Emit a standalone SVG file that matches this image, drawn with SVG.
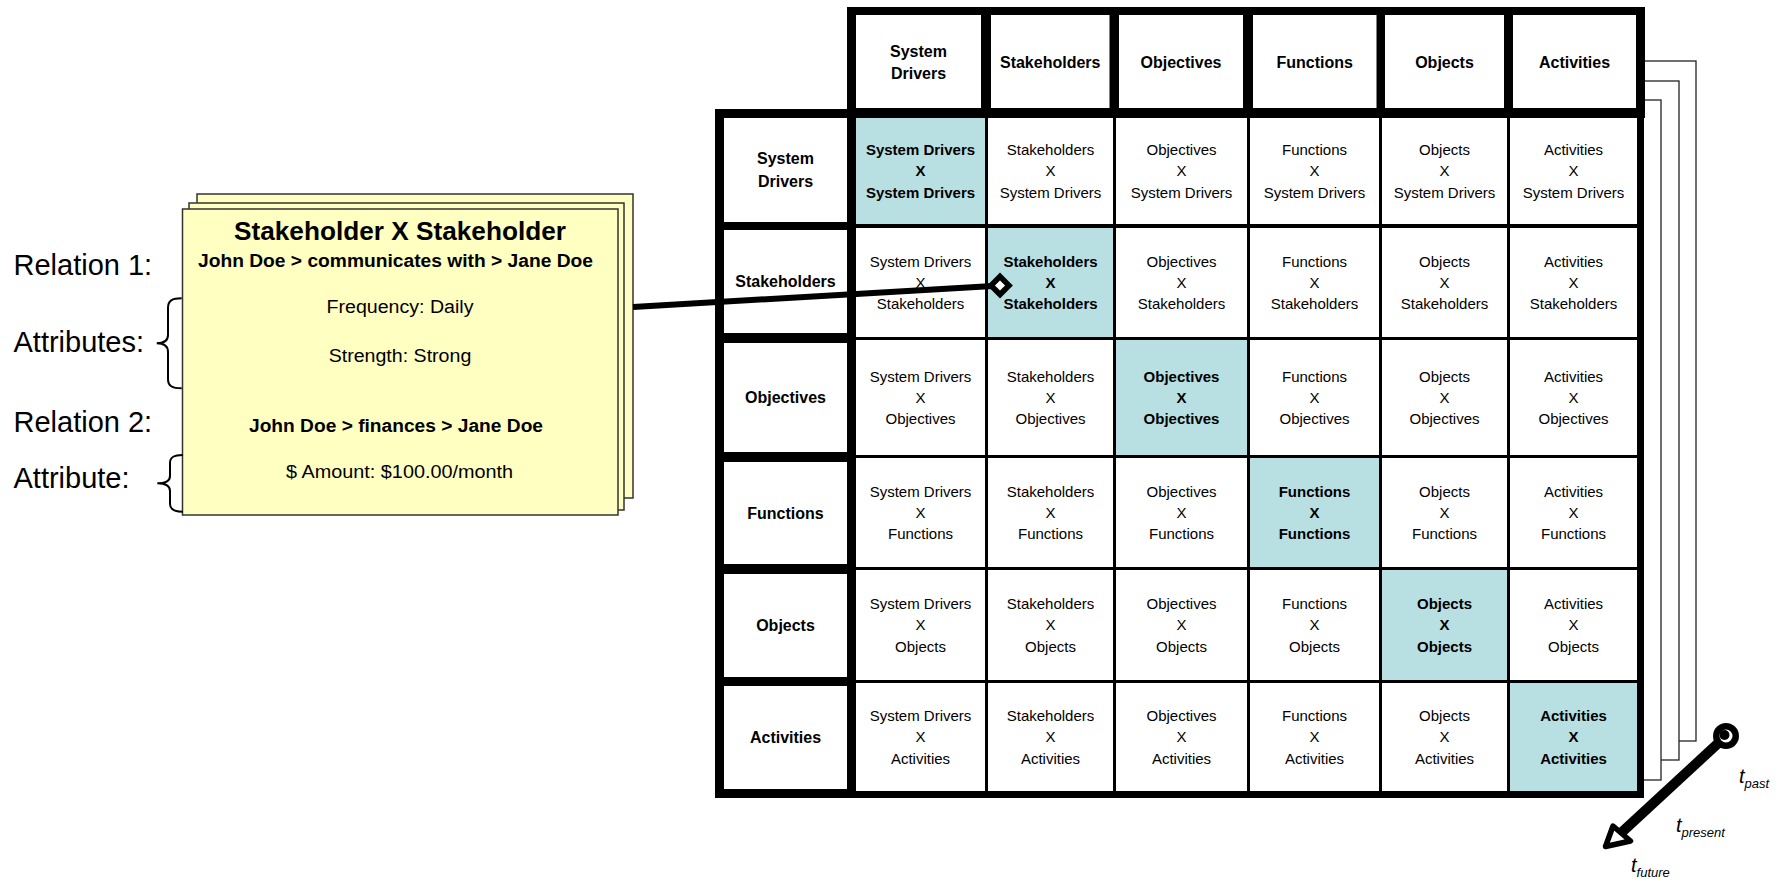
<svg xmlns="http://www.w3.org/2000/svg" width="1789" height="882" viewBox="0 0 1789 882">
  <style>
    text { font-family: "Liberation Sans", Arial, sans-serif; fill: #000; }
    .frame { fill: #000; }
    .cell { fill: #fff; }
    .diag { fill: #B8DFE2; }
    .t { font-size: 15px; text-anchor: middle; }
    .tb { font-size: 15px; font-weight: bold; text-anchor: middle; }
    .h { font-size: 16px; font-weight: bold; text-anchor: middle; }
    .page { fill: #fff; stroke: #222; stroke-width: 1.3; }
    .card { fill: #FFFFC2; stroke: #333; stroke-width: 1.5; }
    .ct { font-size: 18px; text-anchor: middle; }
    .ctb { font-size: 18px; font-weight: bold; text-anchor: middle; }
    .title { font-size: 25px; font-weight: bold; text-anchor: middle; }
    .side { font-size: 29px; }
    .brace { fill: none; stroke: #000; stroke-width: 2; }
    .tm { font-size: 20px; font-style: italic; }
    .sub { font-size: 13px; }
  </style>

  <!-- stacked time sheets behind the matrix -->
  <g id="time-sheets">
    <rect class="page" x="900" y="61" width="796" height="680"/>
    <rect class="page" x="900" y="81" width="779" height="679"/>
    <rect class="page" x="900" y="100" width="761" height="680"/>
  </g>

  <!-- matrix frame -->
  <g id="matrix-frame">
    <rect class="frame" x="847" y="7" width="798" height="111"/>
    <rect class="frame" x="715" y="109" width="141" height="689"/>
    <rect class="frame" x="847" y="109" width="797" height="689"/>
  </g>

  <!-- column headers -->
  <g id="hdr-system-drivers"><rect class="cell" x="856" y="15" width="125" height="93"/><text class="h" x="918.5" y="56.5">System</text><text class="h" x="918.5" y="79">Drivers</text></g>
  <g id="hdr-stakeholders"><rect class="cell" x="991" y="15" width="118.5" height="93"/><text class="h" x="1050.2" y="67.8">Stakeholders</text></g>
  <g id="hdr-objectives"><rect class="cell" x="1119" y="15" width="124" height="93"/><text class="h" x="1181" y="67.8">Objectives</text></g>
  <g id="hdr-functions"><rect class="cell" x="1253" y="15" width="123.5" height="93"/><text class="h" x="1314.7" y="67.8">Functions</text></g>
  <g id="hdr-objects"><rect class="cell" x="1385" y="15" width="119" height="93"/><text class="h" x="1444.5" y="67.8">Objects</text></g>
  <g id="hdr-activities"><rect class="cell" x="1513" y="15" width="123" height="93"/><text class="h" x="1574.5" y="67.8">Activities</text></g>

  <!-- row labels -->
  <g id="row-system-drivers"><rect class="cell" x="724" y="118" width="123" height="104"/><text class="h" x="785.5" y="164">System</text><text class="h" x="785.5" y="187">Drivers</text></g>
  <g id="row-stakeholders"><rect class="cell" x="724" y="230" width="123" height="103"/><text class="h" x="785.5" y="287.3">Stakeholders</text></g>
  <g id="row-objectives"><rect class="cell" x="724" y="343" width="123" height="109"/><text class="h" x="785.5" y="403.3">Objectives</text></g>
  <g id="row-functions"><rect class="cell" x="724" y="462" width="123" height="102"/><text class="h" x="785.5" y="518.8">Functions</text></g>
  <g id="row-objects"><rect class="cell" x="724" y="574" width="123" height="103"/><text class="h" x="785.5" y="631.3">Objects</text></g>
  <g id="row-activities"><rect class="cell" x="724" y="686" width="123" height="103"/><text class="h" x="785.5" y="743.3">Activities</text></g>

  <!-- row 1: System Drivers -->
  <g id="cell-r1c1"><rect class="diag" x="856" y="118" width="129" height="106"/><text class="tb" x="920.5" y="155">System Drivers</text><text class="tb" x="920.5" y="176.3">X</text><text class="tb" x="920.5" y="197.6">System Drivers</text></g>
  <g id="cell-r1c2"><rect class="cell" x="988" y="118" width="125" height="106"/><text class="t" x="1050.5" y="155">Stakeholders</text><text class="t" x="1050.5" y="176.3">X</text><text class="t" x="1050.5" y="197.6">System Drivers</text></g>
  <g id="cell-r1c3"><rect class="cell" x="1116" y="118" width="131" height="106"/><text class="t" x="1181.5" y="155">Objectives</text><text class="t" x="1181.5" y="176.3">X</text><text class="t" x="1181.5" y="197.6">System Drivers</text></g>
  <g id="cell-r1c4"><rect class="cell" x="1250" y="118" width="129" height="106"/><text class="t" x="1314.5" y="155">Functions</text><text class="t" x="1314.5" y="176.3">X</text><text class="t" x="1314.5" y="197.6">System Drivers</text></g>
  <g id="cell-r1c5"><rect class="cell" x="1382" y="118" width="125" height="106"/><text class="t" x="1444.5" y="155">Objects</text><text class="t" x="1444.5" y="176.3">X</text><text class="t" x="1444.5" y="197.6">System Drivers</text></g>
  <g id="cell-r1c6"><rect class="cell" x="1510" y="118" width="127" height="106"/><text class="t" x="1573.5" y="155">Activities</text><text class="t" x="1573.5" y="176.3">X</text><text class="t" x="1573.5" y="197.6">System Drivers</text></g>

  <!-- row 2: Stakeholders -->
  <g id="cell-r2c1"><rect class="cell" x="856" y="228" width="129" height="109"/><text class="t" x="920.5" y="266.5">System Drivers</text><text class="t" x="920.5" y="287.8">X</text><text class="t" x="920.5" y="309.1">Stakeholders</text></g>
  <g id="cell-r2c2"><rect class="diag" x="988" y="228" width="125" height="109"/><text class="tb" x="1050.5" y="266.5">Stakeholders</text><text class="tb" x="1050.5" y="287.8">X</text><text class="tb" x="1050.5" y="309.1">Stakeholders</text></g>
  <g id="cell-r2c3"><rect class="cell" x="1116" y="228" width="131" height="109"/><text class="t" x="1181.5" y="266.5">Objectives</text><text class="t" x="1181.5" y="287.8">X</text><text class="t" x="1181.5" y="309.1">Stakeholders</text></g>
  <g id="cell-r2c4"><rect class="cell" x="1250" y="228" width="129" height="109"/><text class="t" x="1314.5" y="266.5">Functions</text><text class="t" x="1314.5" y="287.8">X</text><text class="t" x="1314.5" y="309.1">Stakeholders</text></g>
  <g id="cell-r2c5"><rect class="cell" x="1382" y="228" width="125" height="109"/><text class="t" x="1444.5" y="266.5">Objects</text><text class="t" x="1444.5" y="287.8">X</text><text class="t" x="1444.5" y="309.1">Stakeholders</text></g>
  <g id="cell-r2c6"><rect class="cell" x="1510" y="228" width="127" height="109"/><text class="t" x="1573.5" y="266.5">Activities</text><text class="t" x="1573.5" y="287.8">X</text><text class="t" x="1573.5" y="309.1">Stakeholders</text></g>

  <!-- row 3: Objectives -->
  <g id="cell-r3c1"><rect class="cell" x="856" y="340" width="129" height="115"/><text class="t" x="920.5" y="381.5">System Drivers</text><text class="t" x="920.5" y="402.8">X</text><text class="t" x="920.5" y="424.1">Objectives</text></g>
  <g id="cell-r3c2"><rect class="cell" x="988" y="340" width="125" height="115"/><text class="t" x="1050.5" y="381.5">Stakeholders</text><text class="t" x="1050.5" y="402.8">X</text><text class="t" x="1050.5" y="424.1">Objectives</text></g>
  <g id="cell-r3c3"><rect class="diag" x="1116" y="340" width="131" height="115"/><text class="tb" x="1181.5" y="381.5">Objectives</text><text class="tb" x="1181.5" y="402.8">X</text><text class="tb" x="1181.5" y="424.1">Objectives</text></g>
  <g id="cell-r3c4"><rect class="cell" x="1250" y="340" width="129" height="115"/><text class="t" x="1314.5" y="381.5">Functions</text><text class="t" x="1314.5" y="402.8">X</text><text class="t" x="1314.5" y="424.1">Objectives</text></g>
  <g id="cell-r3c5"><rect class="cell" x="1382" y="340" width="125" height="115"/><text class="t" x="1444.5" y="381.5">Objects</text><text class="t" x="1444.5" y="402.8">X</text><text class="t" x="1444.5" y="424.1">Objectives</text></g>
  <g id="cell-r3c6"><rect class="cell" x="1510" y="340" width="127" height="115"/><text class="t" x="1573.5" y="381.5">Activities</text><text class="t" x="1573.5" y="402.8">X</text><text class="t" x="1573.5" y="424.1">Objectives</text></g>

  <!-- row 4: Functions -->
  <g id="cell-r4c1"><rect class="cell" x="856" y="458" width="129" height="109"/><text class="t" x="920.5" y="496.5">System Drivers</text><text class="t" x="920.5" y="517.8">X</text><text class="t" x="920.5" y="539.1">Functions</text></g>
  <g id="cell-r4c2"><rect class="cell" x="988" y="458" width="125" height="109"/><text class="t" x="1050.5" y="496.5">Stakeholders</text><text class="t" x="1050.5" y="517.8">X</text><text class="t" x="1050.5" y="539.1">Functions</text></g>
  <g id="cell-r4c3"><rect class="cell" x="1116" y="458" width="131" height="109"/><text class="t" x="1181.5" y="496.5">Objectives</text><text class="t" x="1181.5" y="517.8">X</text><text class="t" x="1181.5" y="539.1">Functions</text></g>
  <g id="cell-r4c4"><rect class="diag" x="1250" y="458" width="129" height="109"/><text class="tb" x="1314.5" y="496.5">Functions</text><text class="tb" x="1314.5" y="517.8">X</text><text class="tb" x="1314.5" y="539.1">Functions</text></g>
  <g id="cell-r4c5"><rect class="cell" x="1382" y="458" width="125" height="109"/><text class="t" x="1444.5" y="496.5">Objects</text><text class="t" x="1444.5" y="517.8">X</text><text class="t" x="1444.5" y="539.1">Functions</text></g>
  <g id="cell-r4c6"><rect class="cell" x="1510" y="458" width="127" height="109"/><text class="t" x="1573.5" y="496.5">Activities</text><text class="t" x="1573.5" y="517.8">X</text><text class="t" x="1573.5" y="539.1">Functions</text></g>

  <!-- row 5: Objects -->
  <g id="cell-r5c1"><rect class="cell" x="856" y="570" width="129" height="110"/><text class="t" x="920.5" y="609">System Drivers</text><text class="t" x="920.5" y="630.3">X</text><text class="t" x="920.5" y="651.6">Objects</text></g>
  <g id="cell-r5c2"><rect class="cell" x="988" y="570" width="125" height="110"/><text class="t" x="1050.5" y="609">Stakeholders</text><text class="t" x="1050.5" y="630.3">X</text><text class="t" x="1050.5" y="651.6">Objects</text></g>
  <g id="cell-r5c3"><rect class="cell" x="1116" y="570" width="131" height="110"/><text class="t" x="1181.5" y="609">Objectives</text><text class="t" x="1181.5" y="630.3">X</text><text class="t" x="1181.5" y="651.6">Objects</text></g>
  <g id="cell-r5c4"><rect class="cell" x="1250" y="570" width="129" height="110"/><text class="t" x="1314.5" y="609">Functions</text><text class="t" x="1314.5" y="630.3">X</text><text class="t" x="1314.5" y="651.6">Objects</text></g>
  <g id="cell-r5c5"><rect class="diag" x="1382" y="570" width="125" height="110"/><text class="tb" x="1444.5" y="609">Objects</text><text class="tb" x="1444.5" y="630.3">X</text><text class="tb" x="1444.5" y="651.6">Objects</text></g>
  <g id="cell-r5c6"><rect class="cell" x="1510" y="570" width="127" height="110"/><text class="t" x="1573.5" y="609">Activities</text><text class="t" x="1573.5" y="630.3">X</text><text class="t" x="1573.5" y="651.6">Objects</text></g>

  <!-- row 6: Activities -->
  <g id="cell-r6c1"><rect class="cell" x="856" y="683" width="129" height="108"/><text class="t" x="920.5" y="721">System Drivers</text><text class="t" x="920.5" y="742.3">X</text><text class="t" x="920.5" y="763.6">Activities</text></g>
  <g id="cell-r6c2"><rect class="cell" x="988" y="683" width="125" height="108"/><text class="t" x="1050.5" y="721">Stakeholders</text><text class="t" x="1050.5" y="742.3">X</text><text class="t" x="1050.5" y="763.6">Activities</text></g>
  <g id="cell-r6c3"><rect class="cell" x="1116" y="683" width="131" height="108"/><text class="t" x="1181.5" y="721">Objectives</text><text class="t" x="1181.5" y="742.3">X</text><text class="t" x="1181.5" y="763.6">Activities</text></g>
  <g id="cell-r6c4"><rect class="cell" x="1250" y="683" width="129" height="108"/><text class="t" x="1314.5" y="721">Functions</text><text class="t" x="1314.5" y="742.3">X</text><text class="t" x="1314.5" y="763.6">Activities</text></g>
  <g id="cell-r6c5"><rect class="cell" x="1382" y="683" width="125" height="108"/><text class="t" x="1444.5" y="721">Objects</text><text class="t" x="1444.5" y="742.3">X</text><text class="t" x="1444.5" y="763.6">Activities</text></g>
  <g id="cell-r6c6"><rect class="diag" x="1510" y="683" width="127" height="108"/><text class="tb" x="1573.5" y="721">Activities</text><text class="tb" x="1573.5" y="742.3">X</text><text class="tb" x="1573.5" y="763.6">Activities</text></g>

  <!-- relation detail card (stack of three sheets) -->
  <g id="relation-card">
    <rect class="card" x="197" y="194" width="436" height="304"/>
    <rect class="card" x="189" y="203" width="435" height="307"/>
    <rect class="card" x="182.5" y="209" width="435.5" height="306"/>
    <text class="title" x="400" y="240" textLength="332" lengthAdjust="spacingAndGlyphs">Stakeholder X Stakeholder</text>
    <text class="ctb" x="395.5" y="267" textLength="395" lengthAdjust="spacingAndGlyphs">John Doe &gt; communicates with &gt; Jane Doe</text>
    <text class="ct" x="400" y="313.3" textLength="147" lengthAdjust="spacingAndGlyphs">Frequency: Daily</text>
    <text class="ct" x="400" y="361.7" textLength="142.6" lengthAdjust="spacingAndGlyphs">Strength: Strong</text>
    <text class="ctb" x="396" y="431.7" textLength="294" lengthAdjust="spacingAndGlyphs">John Doe &gt; finances &gt; Jane Doe</text>
    <text class="ct" x="399.6" y="478.3" textLength="227" lengthAdjust="spacingAndGlyphs">$ Amount: $100.00/month</text>
  </g>

  <!-- side annotations with braces -->
  <g id="side-labels">
    <text class="side" x="13.5" y="275">Relation 1:</text>
    <text class="side" x="13.5" y="351.7">Attributes:</text>
    <text class="side" x="13.5" y="431.7">Relation 2:</text>
    <text class="side" x="13.5" y="488">Attribute:</text>
    <path class="brace" d="M181.7,298.3 C172,298.3 168,300.5 168,308 L168,335 C168,341 163,343.3 156.7,343.3 C163,343.3 168,345.6 168,352 L168,379 C168,386 172,388.3 181.7,388.3"/>
    <path class="brace" d="M182.7,455 C174,455 170,457 170,463 L170,476 C170,481 165,483.3 157.3,483.3 C165,483.3 170,485.6 170,491 L170,504 C170,509.5 174,511.7 182.7,511.7"/>
  </g>

  <!-- connectors -->
  <g id="connectors">
    <line x1="633" y1="307" x2="993" y2="286" stroke="#000" stroke-width="6"/>
    <polygon points="1000,276.5 1009,285.5 1000,294.5 991,285.5" fill="#fff" stroke="#000" stroke-width="5.5" stroke-linejoin="miter"/>
    <!-- time axis arrow -->
    <line x1="1726" y1="736" x2="1621" y2="833" stroke="#000" stroke-width="10"/>
    <polygon points="1605.5,846.5 1613,826 1630.5,841" fill="#fff" stroke="#000" stroke-width="5.5" stroke-linejoin="round"/>
    <circle cx="1726" cy="736" r="13" fill="#000"/>
    <circle cx="1726" cy="736" r="6.5" fill="#fff"/>
    <circle cx="1724.5" cy="735" r="5" fill="#000"/>
  </g>

  <!-- time labels -->
  <g id="time-labels">
    <text class="tm" x="1739" y="783">t<tspan class="sub" dy="5">past</tspan></text>
    <text class="tm" x="1676" y="832">t<tspan class="sub" dy="5">present</tspan></text>
    <text class="tm" x="1631" y="872">t<tspan class="sub" dy="5">future</tspan></text>
  </g>
</svg>
